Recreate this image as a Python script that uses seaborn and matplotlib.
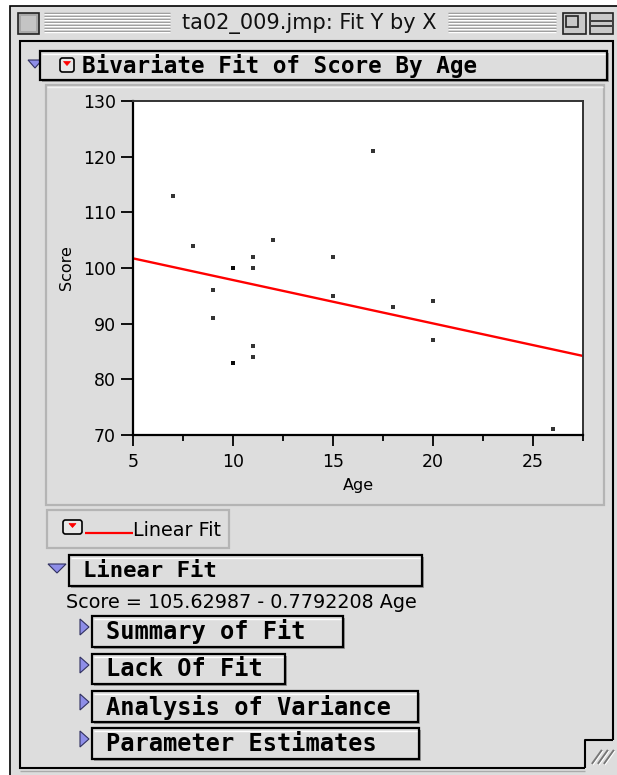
import numpy as np
import pandas as pd
import matplotlib
matplotlib.use("Agg")
import matplotlib.pyplot as plt
import seaborn as sns
from matplotlib.patches import Rectangle, Polygon, FancyBboxPatch

# ---------------- data ----------------
age = [15, 26, 10, 9, 15, 20, 18, 11, 8, 20, 7, 9, 10, 11, 11, 10, 12, 17, 11, 10]
score = [95, 71, 83, 91, 102, 87, 93, 100, 104, 94, 113, 96, 83, 84, 102, 100, 105, 121, 86, 100]
x_ticks = [5, 10, 15, 20, 25]
x_minor = [7.5, 12.5, 17.5, 22.5, 27.5]
y_ticks = [70, 80, 90, 100, 110, 120, 130]
window_title = "ta02_009.jmp: Fit Y by X"
report_title = "Bivariate Fit of Score By Age"
fit_name = "Linear Fit"
equation = "Score = 105.62987 - 0.7792208 Age"
sub_reports = ["Summary of Fit", "Lack Of Fit", "Analysis of Variance", "Parameter Estimates"]

df = pd.DataFrame({"Age": age, "Score": score})

sns.set_theme(style="white")
plt.rcParams['font.family'] = ['DejaVu Sans']

W, H = 617, 775
fig = plt.figure(figsize=(W / 100, H / 100), dpi=100)
fig.patch.set_facecolor('white')

bg = fig.add_axes([0, 0, 1, 1])
bg.set_xlim(0, W)
bg.set_ylim(H, 0)
bg.axis('off')

GRAY = '#dddddd'
LAV = '#8e8ee8'
MONO = ['DejaVu Sans Mono']


def rect(x0, y0, x1, y1, fc='none', ec='black', lw=1.0, z=1):
    bg.add_patch(Rectangle((x0, y0), x1 - x0, y1 - y0, facecolor=fc,
                           edgecolor=ec, linewidth=lw, zorder=z, clip_on=False))


def line(xs, ys, c='black', lw=1.0, z=2):
    bg.plot(xs, ys, color=c, lw=lw, zorder=z, solid_capstyle='butt')


def tri_down(x0, x1, y0, y1):
    bg.add_patch(Polygon([(x0, y0), (x1, y0), ((x0 + x1) / 2, y1)], closed=True,
                         facecolor=LAV, edgecolor='#303060', lw=0.8, zorder=3))


def tri_right(x0, x1, y0, y1):
    bg.add_patch(Polygon([(x0, y0), (x0, y1), (x1, (y0 + y1) / 2)], closed=True,
                         facecolor=LAV, edgecolor='#303060', lw=0.8, zorder=3))


def popup(x0, y0, x1, y1):
    bg.add_patch(FancyBboxPatch((x0, y0), x1 - x0, y1 - y0,
                                boxstyle="round,pad=0,rounding_size=2.5",
                                facecolor='#e8e8e8', edgecolor='black', lw=1.2, zorder=3))
    cx = (x0 + x1) / 2
    bg.add_patch(Polygon([(cx - 3.5, y0 + 3.5), (cx + 3.5, y0 + 3.5), (cx, y0 + 7.5)],
                         closed=True, facecolor='red', edgecolor='red', lw=0.5, zorder=4))


def header(x0, y0, x1, y1, text, tx, fs=16):
    rect(x0 + 2, y0 + 2, x1 + 1.5, y1 + 1.5, fc='#9a9a9a', ec='none', z=2)
    rect(x0, y0, x1, y1, fc=GRAY, ec='black', lw=1.6, z=3)
    line([x0 + 2, x1 - 2], [y0 + 2.5, y0 + 2.5], c='white', lw=1, z=3)
    bg.text(tx, (y0 + y1) / 2 + 0.5, text, family=MONO, weight='bold', fontsize=fs,
            va='center', ha='left', color='black', zorder=4)


# ---------------- window chrome ----------------
rect(10, 6, 640, 800, fc=GRAY, ec='black', lw=1.2, z=0)
# title bar stripes
for yy in range(13, 34, 3):
    line([44, 170], [yy, yy], c='#8a8a8a', lw=1.0)
    line([44, 170], [yy + 1, yy + 1], c='white', lw=1.0)
    line([448, 556], [yy, yy], c='#8a8a8a', lw=1.0)
    line([448, 556], [yy + 1, yy + 1], c='white', lw=1.0)
bg.text(309, 23, window_title, fontsize=15, ha='center', va='center', color='#111111', zorder=4)
# close box
rect(18, 13, 39, 34, fc='#a8a8a8', ec='#222222', lw=1.2, z=3)
rect(21, 16, 36, 31, fc='#c4c4c4', ec='none', z=3)
# zoom box
rect(563, 13, 586, 34, fc='#c8c8c8', ec='#222222', lw=1.2, z=3)
rect(566, 16, 578, 27, fc='none', ec='#222222', lw=1.2, z=3)
# collapse box
rect(590, 13, 613, 34, fc='#c8c8c8', ec='#222222', lw=1.2, z=3)
line([591, 612], [21, 21], c='#222222', lw=1.2, z=4)
line([591, 612], [26, 26], c='#222222', lw=1.2, z=4)

# content frame
rect(20, 41, 613, 768, fc=GRAY, ec='black', lw=1.5, z=1)
# grow box notch
rect(585, 740, 640, 800, fc=GRAY, ec='none', z=2)
line([585, 585, 613], [768, 740, 740], c='black', lw=1.5, z=3)
line([20, 585], [770.5, 770.5], c='#aaaaaa', lw=1.0, z=3)
for k in range(3):
    off = k * 6
    line([592 + off, 602 + off], [764, 750], c='#777777', lw=1.6, z=3)
    line([593 + off, 603 + off], [765, 751], c='white', lw=0.8, z=3)

# report header
tri_down(28, 42, 60, 68)
header(40, 51, 607, 80, report_title, 82, fs=16.3)
popup(60, 58, 74, 72)

# plot panel
rect(46, 85, 604, 505, fc=GRAY, ec='#b4b4b4', lw=1.6, z=1)
line([47, 603], [86.5, 86.5], c='#f2f2f2', lw=1, z=2)

# legend box
rect(47, 510, 229, 548, fc=GRAY, ec='#b4b4b4', lw=1.6, z=1)
popup(63, 520, 82, 534)
line([85, 133], [533, 533], c='red', lw=1.6, z=3)
bg.text(133, 531, fit_name, fontsize=13.8, ha='left', va='center', color='black', zorder=4)

# Linear Fit header
tri_down(48, 66, 564, 573)
header(69, 555, 422, 586, fit_name, 83, fs=16)
bg.text(66, 602, equation, fontsize=13.8, ha='left', va='center', color='black', zorder=4)

# sub reports
sub_boxes = [(92, 616, 343, 647), (92, 654, 285, 684), (92, 691, 418, 722), (92, 728, 419, 759)]
for name, (x0, y0, x1, y1) in zip(sub_reports, sub_boxes):
    tri_right(80, 89, y0 + 3, y0 + 19)
    header(x0, y0, x1, y1, name, 106, fs=17)

# ---------------- the plot ----------------
ax = fig.add_axes([133 / W, 1 - 435 / H, 450 / W, 334 / H])
ax.set_zorder(5)
ax.set_facecolor('white')
ax.set_xlim(5, 27.5)
ax.set_ylim(70, 130)
sns.regplot(data=df, x='Age', y='Score', ax=ax, ci=None, truncate=False, marker='s',
            scatter_kws=dict(s=7, color='black', linewidths=0),
            line_kws=dict(color='red', lw=1.7))
ax.set_xlim(5, 27.5)
ax.set_ylim(70, 130)
ax.set_xticks(x_ticks)
ax.set_xticks(x_minor, minor=True)
ax.set_yticks(y_ticks)
ax.tick_params(which='both', bottom=True, left=True, top=False, right=False,
               direction='out', colors='black', width=1.3)
ax.tick_params(axis='y', which='major', length=8.5, labelsize=12.5, pad=4)
ax.tick_params(axis='x', which='major', length=8, labelsize=12.5, pad=5)
ax.tick_params(axis='x', which='minor', length=4.5)
for s in ['left', 'bottom']:
    ax.spines[s].set_color('black')
    ax.spines[s].set_linewidth(1.6)
for s in ['top', 'right']:
    ax.spines[s].set_color('#333333')
    ax.spines[s].set_linewidth(1.4)
ax.set_xlabel('Age', fontsize=11.5, labelpad=5, color='black')
ax.set_ylabel('Score', fontsize=11.5, labelpad=6, color='black')
ax.grid(False)

fig.savefig('out.png', dpi=100, facecolor=fig.get_facecolor())
